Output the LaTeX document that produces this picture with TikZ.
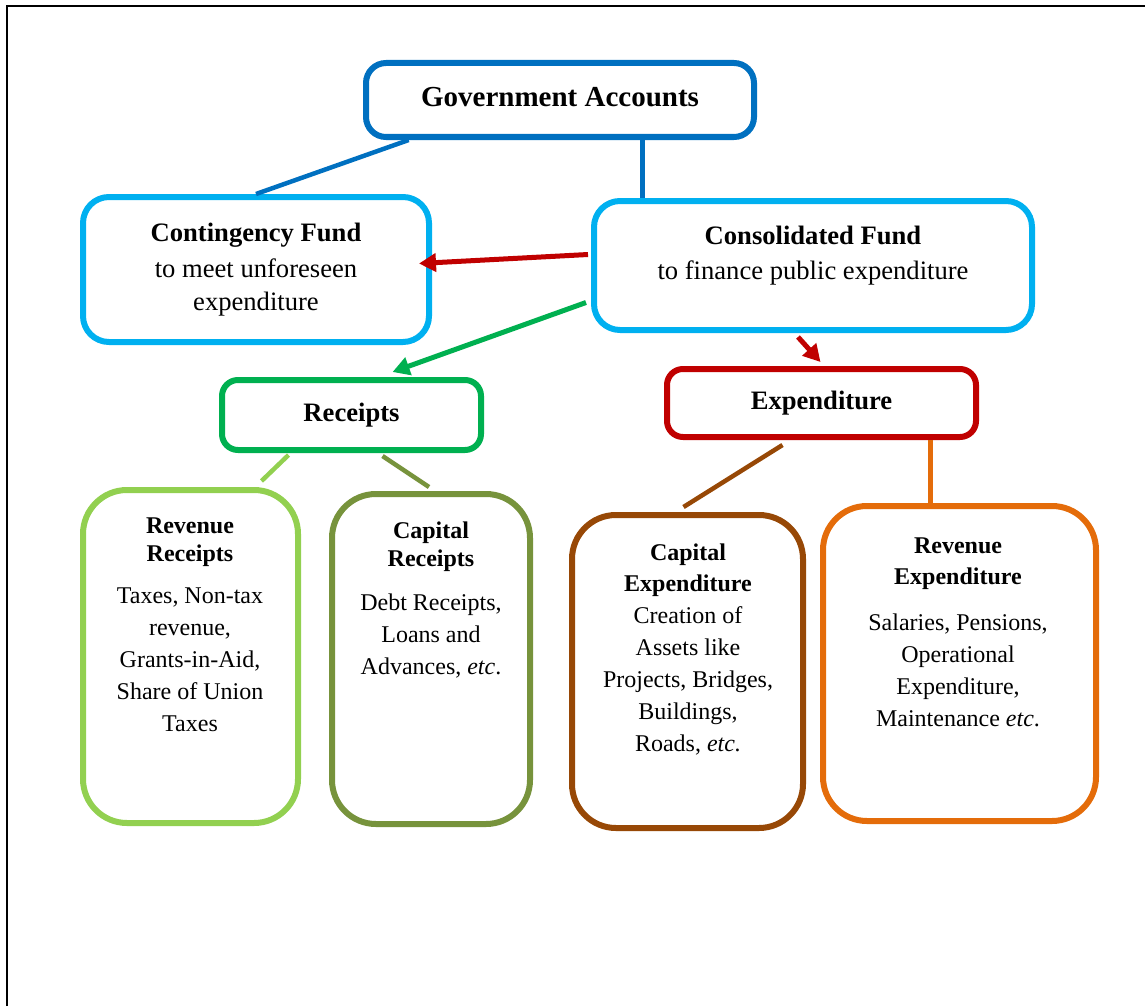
\documentclass[tikz,border=0pt]{standalone}
\usepackage{fontspec}
\setmainfont{Liberation Serif}
\usetikzlibrary{arrows.meta,calc}

\definecolor{gablue}{RGB}{0,112,192}
\definecolor{fundblue}{RGB}{0,176,240}
\definecolor{recgreen}{RGB}{0,176,80}
\definecolor{expred}{RGB}{192,0,0}
\definecolor{revgreen}{RGB}{146,208,80}
\definecolor{capolive}{RGB}{119,147,60}
\definecolor{capbrown}{RGB}{151,72,6}
\definecolor{revorange}{RGB}{228,108,10}

\begin{document}
\begin{tikzpicture}[x=0.5pt,y=-0.5pt]
		\tikzset{box/.style = {draw, line width=3pt, rounded corners=#1, inner sep=0pt}, box/.default=8pt}
		\tikzset{link/.style = {line width=2.25pt}}
		\tikzset{arrowline/.style = {line width=2.5pt, -{Triangle[length=8.5pt,width=9pt]}}}
		\tikzset{headtext/.style = {font=\fontsize{13.3}{16.5}\selectfont, align=center}}
		\tikzset{bodytext/.style = {font=\fontsize{12}{16}\selectfont, align=center, anchor=north, inner sep=0pt}}

		\useasboundingbox (0,0) rectangle (1145,1006);
		\draw[line width=1pt] (7,1006) -- (7,6) -- (1145,6);

		% top level
		\node[box=10pt, gablue, minimum width=194pt, minimum height=37pt, text=black,
			font=\fontsize{14.5}{17}\selectfont\bfseries] (ga) at (560,100) {\raisebox{3.5pt}{Government Accounts}};
		\node[box=13pt, fundblue, minimum width=173pt, minimum height=72.5pt, text=black, headtext] (cont) at (256,269.5)
			{\textbf{Contingency Fund}\\[1.5pt]to meet unforeseen\\expenditure};
		\node[box=13pt, fundblue, minimum width=219pt, minimum height=64.5pt] (cons) at (813,265.5) {};
		\node[headtext, inner sep=0pt] (constext) at (813,256) {\textbf{Consolidated Fund}\\[1pt]to finance public expenditure};

		% second level
		\node[box, recgreen, minimum width=129.5pt, minimum height=35pt, text=black, headtext] (rec) at (351.5,415) {\textbf{Receipts}};
		\node[box, expred, minimum width=154.5pt, minimum height=34pt, text=black, headtext] (exp) at (821.5,403) {\textbf{Expenditure}};

		% lower boxes
		\node[box=22pt, revgreen, minimum width=107.5pt, minimum height=166.5pt] (revrec) at (190.5,656.5) {};
		\node[box=22pt, capolive, minimum width=99pt, minimum height=165pt] (caprec) at (431,659) {};
		\node[box=22pt, capbrown, minimum width=115.5pt, minimum height=156.5pt] (capexp) at (687.5,671.5) {};
		\node[box=22pt, revorange, minimum width=136.5pt, minimum height=157.5pt] (revexp) at (959.5,663.5) {};

		\node[bodytext] (revrectext) at (190,517) {\textbf{Revenue}\\[-2pt]\textbf{Receipts}\\[5pt]Taxes, Non-tax\\revenue,\\Grants-in-Aid,\\Share of Union\\Taxes};
		\node[bodytext] (caprectext) at (431,521) {\textbf{Capital}\\[-2pt]\textbf{Receipts}\\[6pt]Debt Receipts,\\Loans and\\Advances, \textit{etc}.};
		\node[bodytext] (capexptext) at (688,543) {\textbf{Capital}\\[-0.5pt]\textbf{Expenditure}\\Creation of\\Assets like\\Projects, Bridges,\\Buildings,\\Roads, \textit{etc.}};
		\node[bodytext] (revexptext) at (958,537) {\textbf{Revenue}\\[-0.5pt]\textbf{Expenditure}\\[7pt]Salaries, Pensions,\\Operational\\Expenditure,\\Maintenance \textit{etc}.};

		% connectors
		\draw[link, gablue] ($(ga.south west)!0.116!(ga.south east)$) -- (cont.north);
		\coordinate (gadrop) at ($(ga.south west)!0.709!(ga.south east)$);
		\draw[link, gablue] (gadrop) -- (gadrop |- cons.north);
		\draw[arrowline, expred] ($(cons.west)+(-3,-11)$) -- ($(cont.east)+(-13,-6)$);
		\draw[arrowline, recgreen] ($(cons.west)+(-5,37)$) -- ($(rec.north)+(41,-5)$);
		\draw[arrowline, expred] ($(cons.south)+(-15,4)$) -- ($(exp.north)+(-1,-4)$);
		\draw[link, revgreen] ($(rec.south)+(-63,2)$) -- ($(revrec.north)+(71,-6)$);
		\draw[link, capolive] ($(rec.south)+(31,3)$) -- ($(caprec.north)+(-2,-4)$);
		\draw[link, capbrown] ($(exp.south)+(-39,5)$) -- ($(capexp.north)+(-4,-5)$);
		\coordinate (expdrop) at ($(exp.south)+(109,0)$);
		\draw[link, revorange] (expdrop) -- (expdrop |- revexp.north);

	\end{tikzpicture}
\end{document}
